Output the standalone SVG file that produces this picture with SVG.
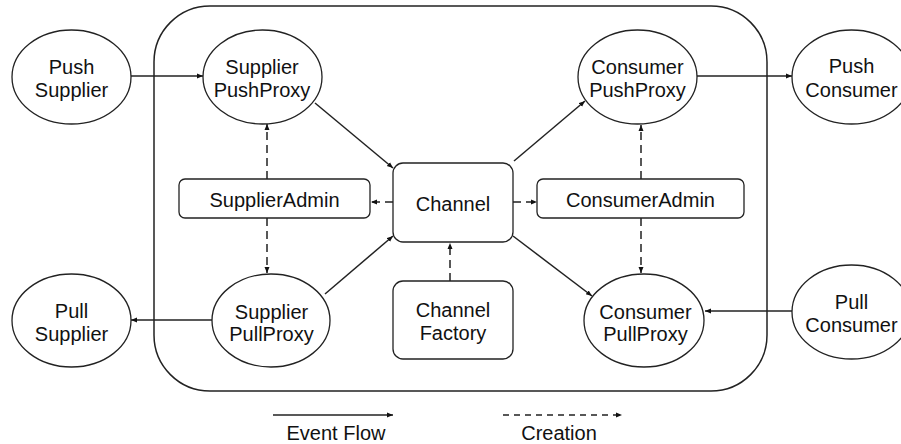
<svg xmlns="http://www.w3.org/2000/svg" width="901" height="444" viewBox="0 0 901 444">
<style>
text{font-family:"Liberation Sans",Arial,sans-serif;font-size:20px;fill:#111;text-anchor:middle}
.n{fill:#fff;stroke:#222;stroke-width:1.3}
.b{fill:none;stroke:#222;stroke-width:1.5}
.f{fill:none;stroke:#222;stroke-width:1.5;marker-end:url(#ah)}
.d{fill:none;stroke:#222;stroke-width:1.5;stroke-dasharray:8,5;marker-end:url(#ah)}
.dl{fill:none;stroke:#222;stroke-width:1.5;stroke-dasharray:6,5;marker-end:url(#ah)}
</style>
<defs>
<marker id="ah" markerUnits="userSpaceOnUse" markerWidth="8" markerHeight="8" refX="6" refY="3" orient="auto">
<path d="M0,0.5 L6,3 L0,5.5 Z" fill="#111"/>
</marker>
</defs>
<rect id="container" class="b" x="154" y="6" width="613" height="385" rx="56" ry="56"/>
<g id="connectors">
<line class="f" x1="131" y1="76" x2="203" y2="76"/>
<line class="f" x1="315" y1="103" x2="393" y2="168"/>
<line class="f" x1="325" y1="294" x2="393" y2="236"/>
<line class="f" x1="212" y1="320" x2="131" y2="320"/>
<line class="f" x1="514" y1="161" x2="585" y2="101"/>
<line class="f" x1="697" y1="76" x2="792" y2="76"/>
<line class="f" x1="513" y1="236" x2="592" y2="296"/>
<line class="f" x1="792" y1="311" x2="705" y2="311"/>
<line class="d" x1="393" y1="202" x2="371" y2="202"/>
<line class="d" x1="513" y1="202" x2="537" y2="202"/>
<line class="d" x1="267" y1="179" x2="267" y2="124"/>
<line class="d" x1="267" y1="218" x2="267" y2="273"/>
<line class="d" x1="641" y1="179" x2="641" y2="125"/>
<line class="d" x1="641" y1="218" x2="641" y2="273"/>
<line class="d" x1="450" y1="281" x2="450" y2="243"/>
<line class="f" x1="273" y1="415" x2="393" y2="415"/>
<line class="dl" x1="503" y1="415" x2="622" y2="415"/>
</g>
<g id="push-supplier"><ellipse class="n" cx="71.5" cy="77" rx="59.5" ry="47"/><text x="71.5" y="74">Push</text><text x="71.5" y="97">Supplier</text></g>
<g id="supplier-pushproxy"><ellipse class="n" cx="262.5" cy="77" rx="59.5" ry="47"/><text x="262" y="74">Supplier</text><text x="262" y="97">PushProxy</text></g>
<g id="consumer-pushproxy"><ellipse class="n" cx="637.5" cy="77" rx="59.5" ry="47"/><text x="637.5" y="74">Consumer</text><text x="637.5" y="97">PushProxy</text></g>
<g id="push-consumer"><ellipse class="n" cx="851.5" cy="77" rx="59.5" ry="47"/><text x="851.5" y="73">Push</text><text x="851.5" y="97">Consumer</text></g>
<g id="supplier-admin"><rect class="n" x="179" y="179" width="191" height="39" rx="6"/><text x="274.5" y="207">SupplierAdmin</text></g>
<g id="channel"><rect class="n" x="393" y="163" width="120" height="79" rx="10"/><text x="453" y="211">Channel</text></g>
<g id="consumer-admin"><rect class="n" x="537" y="179" width="207" height="39" rx="6"/><text x="640.5" y="207">ConsumerAdmin</text></g>
<g id="channel-factory"><rect class="n" x="393" y="281" width="120" height="78" rx="10"/><text x="453" y="317">Channel</text><text x="453" y="340">Factory</text></g>
<g id="pull-supplier"><ellipse class="n" cx="71.5" cy="320.5" rx="59.5" ry="46.5"/><text x="71.5" y="318">Pull</text><text x="71.5" y="341">Supplier</text></g>
<g id="supplier-pullproxy"><ellipse class="n" cx="271" cy="320.5" rx="59" ry="46.5"/><text x="271.5" y="319">Supplier</text><text x="271.5" y="341">PullProxy</text></g>
<g id="consumer-pullproxy"><ellipse class="n" cx="644" cy="320.5" rx="60" ry="46.5"/><text x="645.5" y="319">Consumer</text><text x="645.5" y="341">PullProxy</text></g>
<g id="pull-consumer"><ellipse class="n" cx="851.5" cy="312" rx="59.5" ry="47"/><text x="851.5" y="309">Pull</text><text x="851.5" y="332">Consumer</text></g>
<text x="336" y="440">Event Flow</text>
<text x="559" y="440">Creation</text>
</svg>
